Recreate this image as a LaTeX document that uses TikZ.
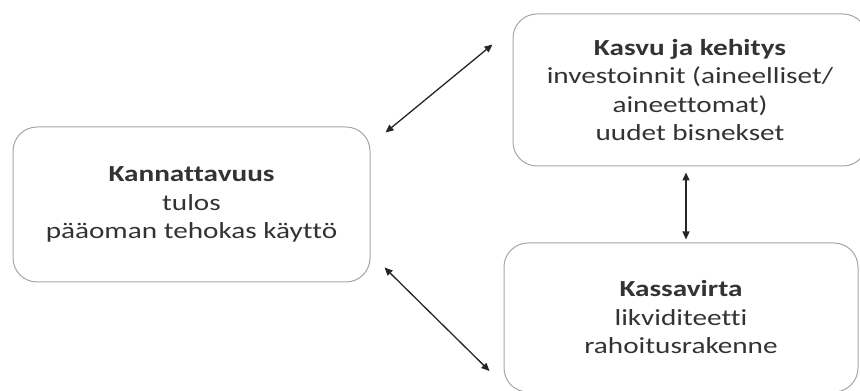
\documentclass[tikz,border=0pt]{standalone}
\usepackage{fontspec}
\setmainfont{Carlito}[Ligatures=NoCommon, FakeStretch=1.27]
\usetikzlibrary{arrows.meta}

\begin{document}
\begin{tikzpicture}[x=1pt, y=1pt,
  box/.style={draw=black!35, line width=1pt, rounded corners=24pt, inner sep=0pt,
    align=center, text=black!80, font=\fontsize{23}{28.5}\selectfont},
  link/.style={line width=1.3pt, black!85, {Triangle[length=8pt,width=7pt]}-{Triangle[length=8pt,width=7pt]}}]

\useasboundingbox (0,0) rectangle (860,391);

\node[box, minimum width=357, minimum height=155] (kann) at (191.5,186.5)
  {\textbf{Kannattavuus}\\tulos\\pääoman tehokas käyttö};

\node[box, minimum width=354, minimum height=152] (kasvu) at (690,301)
  {\textbf{Kasvu ja kehitys}\\investoinnit (aineelliset/\\aineettomat)\\uudet bisnekset};

\node[box, minimum width=354, minimum height=149] (kassa) at (681,73.5)
  {\textbf{Kassavirta}\\likviditeetti\\rahoitusrakenne};

\draw[link] ([shift={(15,-6)}]kann.north east) -- ([shift={(-20,-31)}]kasvu.north west);
\draw[link] ([shift={(14,15)}]kann.south east) -- ([shift={(-14,-53.5)}]kassa.west);
\draw[link] ([shift={(-4,-6)}]kasvu.south) -- ([shift={(5,3)}]kassa.north);
\end{tikzpicture}
\end{document}
